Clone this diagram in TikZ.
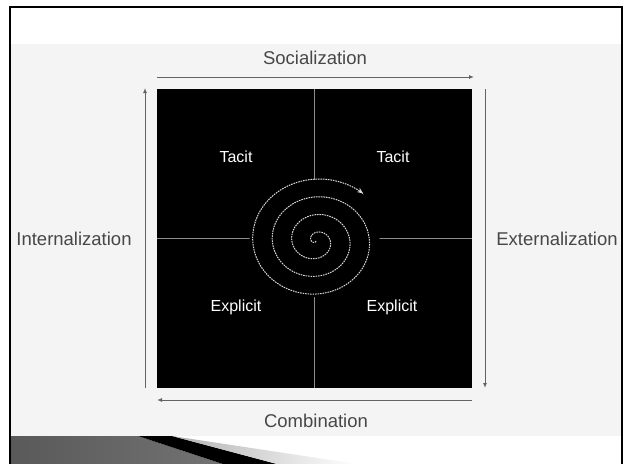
\documentclass[tikz,border=0pt]{standalone}
\usepackage{fontspec}
\setmainfont{Liberation Sans}
\usetikzlibrary{arrows.meta}
\usepackage{xcolor}

\definecolor{panelgray}{HTML}{F4F4F4}
\definecolor{labelgray}{HTML}{474747}
\definecolor{guidegray}{HTML}{8C8C8C}
\definecolor{spiralgray}{HTML}{D8D8D8}

\begin{document}
\begin{tikzpicture}[x=1pt, y=-1pt,
		outer label/.style={text=labelgray, font=\fontsize{18.5}{22}\selectfont, inner sep=0pt},
		quad label/.style={text=white, font=\fontsize{16}{19}\selectfont, inner sep=0pt},
		cycle arrow/.style={draw=labelgray!85, line width=1pt, -{Latex[length=5pt,width=4pt]}},
		guide/.style={draw=guidegray, line width=0.9pt}]

		\useasboundingbox (0,0) rectangle (625,464);

		% Slide background, panel and frame
		\fill[white] (0,0) rectangle (625,464);
		\fill[panelgray] (11,44) rectangle (621,436);
		\shade[left color=black!65, middle color=black!32, right color=black!55] (11,436) -- (138,436) -- (223,464) -- (11,464) -- cycle;
		\fill[black] (138,436) -- (172,436) -- (277,464) -- (223,464) -- cycle; % Dark stripe
		\shade[left color=black!30, right color=white] (172,436) -- (357,464) -- (277,464) -- cycle;
		\draw[line width=2.5pt] (10,470) -- (10,7) -- (622,7) -- (622,470);

		% Black square with its quadrant guides
		\node[fill=black, minimum width=315pt, minimum height=299pt, inner sep=0pt, outer sep=0pt] (board) at (314.5,238.5) {};
		\draw[guide] (board.north) -- (board.south);
		\draw[guide] (board.west) -- (board.east);
		\fill[black] (314.5,238.5) ellipse [x radius=65, y radius=58.5];

		% Spiral
		\draw[spiralgray, line width=1pt, dash pattern=on 1.6pt off 0.9pt, -{Stealth[length=6pt,width=5pt]}]
			plot[domain=0:1296, samples=400, smooth] ({316+\x/1296*70.4*cos(\x-984)}, {241+\x/1296*64*sin(\x-984)});

		% Quadrant labels
		\node[quad label] (tacit-l) at (236,157) {Tacit};
		\node[quad label] (tacit-r) at (393,157) {Tacit};
		\node[quad label] (explicit-l) at (236,307) {Explicit};
		\node[quad label] (explicit-r) at (392,307) {Explicit};

		% Conversion labels
		\node[outer label] (soc) at (315,58) {Socialization};
		\node[outer label] (ext) at (557,239) {Externalization};
		\node[outer label] (comb) at (316,421) {Combination};
		\node[outer label] (int) at (74,239) {Internalization};

		% Arrows round the square
		\coordinate (soc-a) at (157,77);
		\coordinate (soc-b) at (474,77);
		\coordinate (ext-a) at (485,89);
		\coordinate (ext-b) at (485,388);
		\coordinate (comb-a) at (472,400);
		\coordinate (comb-b) at (157,400);
		\coordinate (int-a) at (145,388);
		\coordinate (int-b) at (145,88);
		\draw[cycle arrow] (soc-a) -- (soc-b);
		\draw[cycle arrow] (ext-a) -- (ext-b);
		\draw[cycle arrow] (comb-a) -- (comb-b);
		\draw[cycle arrow] (int-a) -- (int-b);
	\end{tikzpicture}
\end{document}
